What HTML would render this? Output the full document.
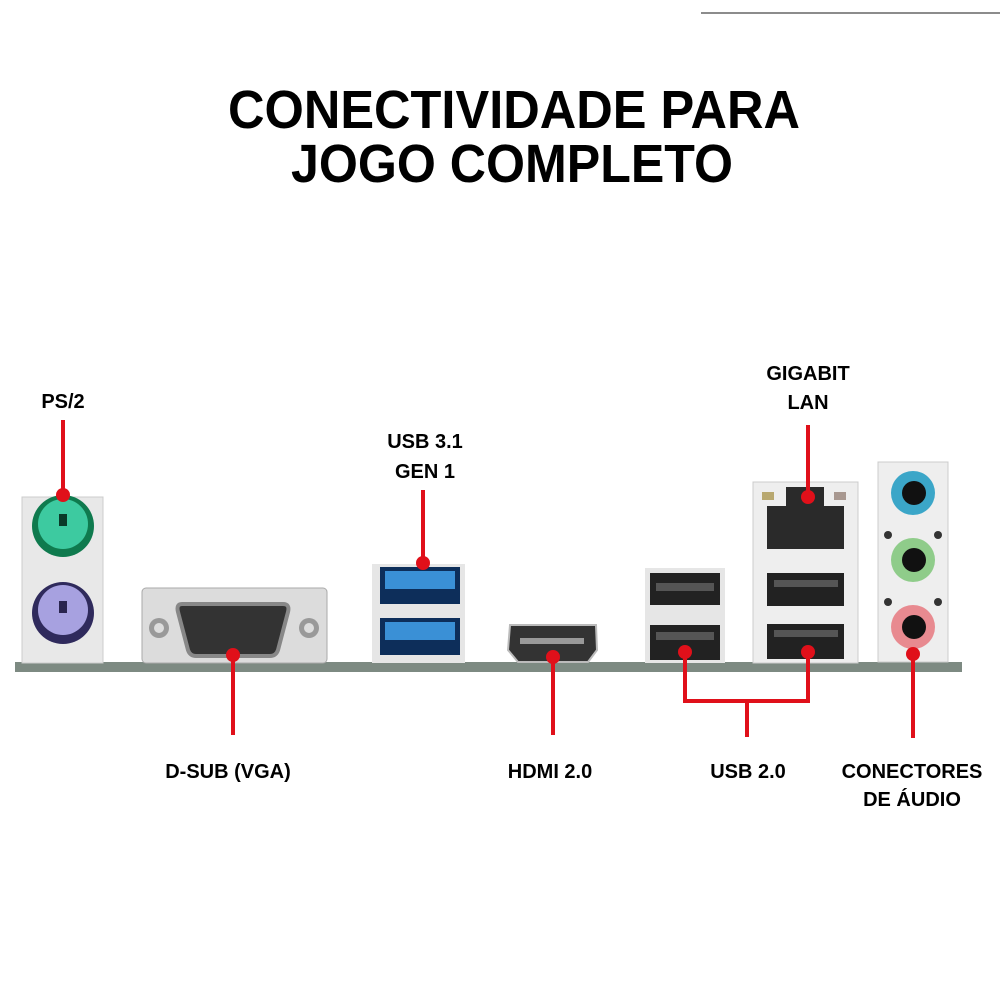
<!DOCTYPE html>
<html><head><meta charset="utf-8"><style>
html,body{margin:0;padding:0;background:#fff;}
svg{display:block;}
text{font-family:"Liberation Sans",sans-serif;font-weight:bold;fill:#000;}
</style></head><body>
<svg width="1000" height="1000" viewBox="0 0 1000 1000" xmlns="http://www.w3.org/2000/svg">
<line x1="701" y1="13" x2="1000" y2="13" stroke="#666" stroke-width="1.5"/>
<text x="514" y="128" font-size="54" text-anchor="middle" textLength="572" lengthAdjust="spacingAndGlyphs">CONECTIVIDADE PARA</text>
<text x="512" y="182" font-size="54" text-anchor="middle" textLength="442" lengthAdjust="spacingAndGlyphs">JOGO COMPLETO</text>

<rect x="15" y="662" width="947" height="10" fill="#7d8a82"/>

<rect x="22" y="497" width="81" height="166" fill="#e8e8e8" stroke="#ccc"/>
<circle cx="63" cy="526" r="31" fill="#0f7a4e"/>
<circle cx="63" cy="524" r="25" fill="#3dcaa0"/>
<rect x="59" y="514" width="8" height="12" fill="#0a3a28"/>
<circle cx="63" cy="613" r="31" fill="#2f2a5c"/>
<circle cx="63" cy="610" r="25" fill="#a7a1e0"/>
<rect x="59" y="601" width="8" height="12" fill="#2a254f"/>

<rect x="142" y="588" width="185" height="75" rx="4" fill="#dcdcdc" stroke="#aaa"/>
<circle cx="159" cy="628" r="10" fill="#999"/><circle cx="159" cy="628" r="5" fill="#ddd"/>
<circle cx="309" cy="628" r="10" fill="#999"/><circle cx="309" cy="628" r="5" fill="#ddd"/>
<path d="M182 604 L283 604 Q290 604 288 612 L278 650 Q276 656 270 656 L196 656 Q190 656 188 650 L178 612 Q176 604 182 604Z" fill="#333" stroke="#888" stroke-width="4"/>

<rect x="372" y="564" width="93" height="99" fill="#e6e6e6"/>
<rect x="380" y="567" width="80" height="37" fill="#0d2e5a"/>
<rect x="385" y="571" width="70" height="18" fill="#3a90d6"/>
<rect x="380" y="618" width="80" height="37" fill="#0d2e5a"/>
<rect x="385" y="622" width="70" height="18" fill="#3a90d6"/>

<path d="M510 625 L596 625 L597 650 L588 662 L518 662 L508 650Z" fill="#333" stroke="#bbb" stroke-width="2"/>
<rect x="520" y="638" width="64" height="6" fill="#999"/>

<rect x="645" y="568" width="80" height="95" fill="#e6e6e6"/>
<rect x="650" y="573" width="70" height="32" fill="#222"/>
<rect x="656" y="583" width="58" height="8" fill="#555"/>
<rect x="650" y="625" width="70" height="35" fill="#222"/>
<rect x="656" y="632" width="58" height="8" fill="#555"/>

<rect x="753" y="482" width="105" height="181" fill="#eeeeee" stroke="#ccc"/>
<rect x="767" y="506" width="77" height="43" fill="#2a2a2a"/>
<rect x="786" y="487" width="38" height="20" fill="#2a2a2a"/>
<rect x="762" y="492" width="12" height="8" fill="#b8a870"/>
<rect x="834" y="492" width="12" height="8" fill="#a89890"/>
<rect x="767" y="573" width="77" height="33" fill="#222"/>
<rect x="774" y="580" width="64" height="7" fill="#555"/>
<rect x="767" y="624" width="77" height="35" fill="#222"/>
<rect x="774" y="630" width="64" height="7" fill="#555"/>

<rect x="878" y="462" width="70" height="200" fill="#eeeeee" stroke="#ccc"/>
<circle cx="913" cy="493" r="22" fill="#3ba6c8"/><circle cx="914" cy="493" r="12" fill="#111"/>
<circle cx="913" cy="560" r="22" fill="#8fcc8a"/><circle cx="914" cy="560" r="12" fill="#111"/>
<circle cx="913" cy="627" r="22" fill="#e88a90"/><circle cx="914" cy="627" r="12" fill="#111"/>
<circle cx="888" cy="535" r="4" fill="#333"/><circle cx="938" cy="535" r="4" fill="#333"/>
<circle cx="888" cy="602" r="4" fill="#333"/><circle cx="938" cy="602" r="4" fill="#333"/>

<g stroke="#e0101a" stroke-width="4" fill="none">
<line x1="63" y1="420" x2="63" y2="495"/>
<line x1="233" y1="655" x2="233" y2="735"/>
<line x1="423" y1="490" x2="423" y2="563"/>
<line x1="553" y1="657" x2="553" y2="735"/>
<polyline points="685,652 685,701 808,701 808,652"/>
<line x1="747" y1="701" x2="747" y2="737"/>
<line x1="808" y1="425" x2="808" y2="497"/>
<line x1="913" y1="654" x2="913" y2="738"/>
</g>
<g fill="#e0101a">
<circle cx="63" cy="495" r="7"/><circle cx="233" cy="655" r="7"/><circle cx="423" cy="563" r="7"/>
<circle cx="553" cy="657" r="7"/><circle cx="685" cy="652" r="7"/><circle cx="808" cy="652" r="7"/>
<circle cx="808" cy="497" r="7"/><circle cx="913" cy="654" r="7"/>
</g>

<g font-size="20">
<text x="63" y="408" text-anchor="middle">PS/2</text>
<text x="425" y="448" text-anchor="middle">USB 3.1</text>
<text x="425" y="478" text-anchor="middle">GEN 1</text>
<text x="808" y="380" text-anchor="middle">GIGABIT</text>
<text x="808" y="409" text-anchor="middle">LAN</text>
<text x="228" y="778" text-anchor="middle">D-SUB (VGA)</text>
<text x="550" y="778" text-anchor="middle">HDMI 2.0</text>
<text x="748" y="778" text-anchor="middle">USB 2.0</text>
<text x="912" y="778" text-anchor="middle">CONECTORES</text>
<text x="912" y="806" text-anchor="middle">DE ÁUDIO</text>
</g>
</svg>
</body></html>
